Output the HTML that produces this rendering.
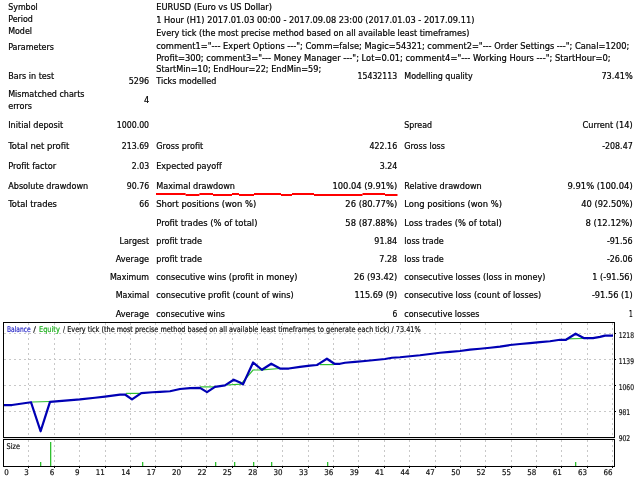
<!DOCTYPE html>
<html><head><meta charset="utf-8"><title>Strategy Tester Report</title>
<style>
html,body{margin:0;padding:0;background:#fff;width:640px;height:480px;overflow:hidden}
svg{display:block}
.t{font-family:'DejaVu Sans Condensed','DejaVu Sans','Liberation Sans',sans-serif;font-size:9.1px;fill:#000;stroke:#000;stroke-width:0.2px}
.c{font-family:'DejaVu Sans Condensed','DejaVu Sans','Liberation Sans',sans-serif;font-size:7.9px;fill:#141414;stroke:#141414;stroke-width:0.2px}
</style></head><body>
<svg width="640" height="480" viewBox="0 0 640 480">
<rect width="640" height="480" fill="#fff"/>
<text class="t" x="8.20" y="10" textLength="29.50" lengthAdjust="spacingAndGlyphs">Symbol</text>
<text class="t" x="156.25" y="10" textLength="115.75" lengthAdjust="spacingAndGlyphs">EURUSD (Euro vs US Dollar)</text>
<text class="t" x="8.20" y="22" textLength="24.70" lengthAdjust="spacingAndGlyphs">Period</text>
<text class="t" x="156.25" y="23" textLength="318.15" lengthAdjust="spacingAndGlyphs">1 Hour (H1) 2017.01.03 00:00 - 2017.09.08 23:00 (2017.01.03 - 2017.09.11)</text>
<text class="t" x="8.20" y="34" textLength="23.80" lengthAdjust="spacingAndGlyphs">Model</text>
<text class="t" x="156.25" y="36" textLength="313.15" lengthAdjust="spacingAndGlyphs">Every tick (the most precise method based on all available least timeframes)</text>
<text class="t" x="8.20" y="50" textLength="45.80" lengthAdjust="spacingAndGlyphs">Parameters</text>
<text class="t" x="156.25" y="49" textLength="472.95" lengthAdjust="spacingAndGlyphs">comment1=&quot;--- Expert Options ---&quot;; Comm=false; Magic=54321; comment2=&quot;--- Order Settings ---&quot;; Canal=1200;</text>
<text class="t" x="156.25" y="61" textLength="454.25" lengthAdjust="spacingAndGlyphs">Profit=300; comment3=&quot;--- Money Manager ---&quot;; Lot=0.01; comment4=&quot;--- Working Hours ---&quot;; StartHour=0;</text>
<text class="t" x="156.25" y="72" textLength="165.00" lengthAdjust="spacingAndGlyphs">StartMin=10; EndHour=22; EndMin=59;</text>
<text class="t" x="8.20" y="79" textLength="46.00" lengthAdjust="spacingAndGlyphs">Bars in test</text>
<text class="t" x="128.70" y="84" textLength="20.40" lengthAdjust="spacingAndGlyphs">5296</text>
<text class="t" x="156.27" y="84" textLength="59.99" lengthAdjust="spacingAndGlyphs">Ticks modelled</text>
<text class="t" x="357.50" y="79" textLength="39.70" lengthAdjust="spacingAndGlyphs">15432113</text>
<text class="t" x="404.25" y="79" textLength="68.45" lengthAdjust="spacingAndGlyphs">Modelling quality</text>
<text class="t" x="601.40" y="79" textLength="31.30" lengthAdjust="spacingAndGlyphs">73.41%</text>
<text class="t" x="8.20" y="97" textLength="76.30" lengthAdjust="spacingAndGlyphs">Mismatched charts</text>
<text class="t" x="8.20" y="109" textLength="23.80" lengthAdjust="spacingAndGlyphs">errors</text>
<text class="t" x="143.89" y="103">4</text>
<text class="t" x="8.20" y="128" textLength="55.05" lengthAdjust="spacingAndGlyphs">Initial deposit</text>
<text class="t" x="116.75" y="128" textLength="32.35" lengthAdjust="spacingAndGlyphs">1000.00</text>
<text class="t" x="404.25" y="128" textLength="27.75" lengthAdjust="spacingAndGlyphs">Spread</text>
<text class="t" x="582.50" y="128" textLength="50.20" lengthAdjust="spacingAndGlyphs">Current (14)</text>
<text class="t" x="8.22" y="149" textLength="61.03" lengthAdjust="spacingAndGlyphs">Total net profit</text>
<text class="t" x="121.75" y="149" textLength="27.35" lengthAdjust="spacingAndGlyphs">213.69</text>
<text class="t" x="156.25" y="149" textLength="47.00" lengthAdjust="spacingAndGlyphs">Gross profit</text>
<text class="t" x="369.50" y="149" textLength="27.70" lengthAdjust="spacingAndGlyphs">422.16</text>
<text class="t" x="404.25" y="149" textLength="40.75" lengthAdjust="spacingAndGlyphs">Gross loss</text>
<text class="t" x="602.20" y="149" textLength="30.50" lengthAdjust="spacingAndGlyphs">-208.47</text>
<text class="t" x="8.20" y="169" textLength="48.04" lengthAdjust="spacingAndGlyphs">Profit factor</text>
<text class="t" x="131.75" y="169" textLength="17.35" lengthAdjust="spacingAndGlyphs">2.03</text>
<text class="t" x="156.25" y="169" textLength="65.58" lengthAdjust="spacingAndGlyphs">Expected payoff</text>
<text class="t" x="379.70" y="169" textLength="17.50" lengthAdjust="spacingAndGlyphs">3.24</text>
<text class="t" x="8.20" y="189" textLength="80.05" lengthAdjust="spacingAndGlyphs">Absolute drawdown</text>
<text class="t" x="126.75" y="189" textLength="22.35" lengthAdjust="spacingAndGlyphs">90.76</text>
<text class="t" x="156.25" y="189" textLength="78.75" lengthAdjust="spacingAndGlyphs">Maximal drawdown</text>
<text class="t" x="332.50" y="189" textLength="64.70" lengthAdjust="spacingAndGlyphs">100.04 (9.91%)</text>
<text class="t" x="404.25" y="189" textLength="77.50" lengthAdjust="spacingAndGlyphs">Relative drawdown</text>
<text class="t" x="567.50" y="189" textLength="65.20" lengthAdjust="spacingAndGlyphs">9.91% (100.04)</text>
<text class="t" x="8.22" y="207" textLength="48.78" lengthAdjust="spacingAndGlyphs">Total trades</text>
<text class="t" x="139.25" y="207" textLength="9.85" lengthAdjust="spacingAndGlyphs">66</text>
<text class="t" x="156.25" y="207" textLength="100.00" lengthAdjust="spacingAndGlyphs">Short positions (won %)</text>
<text class="t" x="345.30" y="207" textLength="51.90" lengthAdjust="spacingAndGlyphs">26 (80.77%)</text>
<text class="t" x="404.25" y="207" textLength="97.75" lengthAdjust="spacingAndGlyphs">Long positions (won %)</text>
<text class="t" x="581.25" y="207" textLength="51.45" lengthAdjust="spacingAndGlyphs">40 (92.50%)</text>
<text class="t" x="156.25" y="226" textLength="101.25" lengthAdjust="spacingAndGlyphs">Profit trades (% of total)</text>
<text class="t" x="345.30" y="226" textLength="51.90" lengthAdjust="spacingAndGlyphs">58 (87.88%)</text>
<text class="t" x="404.25" y="226" textLength="97.50" lengthAdjust="spacingAndGlyphs">Loss trades (% of total)</text>
<text class="t" x="585.50" y="226" textLength="47.20" lengthAdjust="spacingAndGlyphs">8 (12.12%)</text>
<text class="t" x="119.50" y="244" textLength="29.60" lengthAdjust="spacingAndGlyphs">Largest</text>
<text class="t" x="156.25" y="244" textLength="45.75" lengthAdjust="spacingAndGlyphs">profit trade</text>
<text class="t" x="374.30" y="244" textLength="22.90" lengthAdjust="spacingAndGlyphs">91.84</text>
<text class="t" x="404.25" y="244" textLength="39.50" lengthAdjust="spacingAndGlyphs">loss trade</text>
<text class="t" x="606.90" y="244" textLength="25.80" lengthAdjust="spacingAndGlyphs">-91.56</text>
<text class="t" x="115.75" y="262" textLength="33.35" lengthAdjust="spacingAndGlyphs">Average</text>
<text class="t" x="156.25" y="262" textLength="45.75" lengthAdjust="spacingAndGlyphs">profit trade</text>
<text class="t" x="379.30" y="262" textLength="17.90" lengthAdjust="spacingAndGlyphs">7.28</text>
<text class="t" x="404.25" y="262" textLength="39.50" lengthAdjust="spacingAndGlyphs">loss trade</text>
<text class="t" x="606.90" y="262" textLength="25.80" lengthAdjust="spacingAndGlyphs">-26.06</text>
<text class="t" x="110.00" y="280" textLength="39.10" lengthAdjust="spacingAndGlyphs">Maximum</text>
<text class="t" x="156.25" y="280" textLength="141.25" lengthAdjust="spacingAndGlyphs">consecutive wins (profit in money)</text>
<text class="t" x="354.00" y="280" textLength="43.20" lengthAdjust="spacingAndGlyphs">26 (93.42)</text>
<text class="t" x="404.25" y="280" textLength="141.25" lengthAdjust="spacingAndGlyphs">consecutive losses (loss in money)</text>
<text class="t" x="592.30" y="280" textLength="40.40" lengthAdjust="spacingAndGlyphs">1 (-91.56)</text>
<text class="t" x="115.75" y="298" textLength="33.35" lengthAdjust="spacingAndGlyphs">Maximal</text>
<text class="t" x="156.25" y="298" textLength="137.50" lengthAdjust="spacingAndGlyphs">consecutive profit (count of wins)</text>
<text class="t" x="354.50" y="298" textLength="42.70" lengthAdjust="spacingAndGlyphs">115.69 (9)</text>
<text class="t" x="404.25" y="298" textLength="137.00" lengthAdjust="spacingAndGlyphs">consecutive loss (count of losses)</text>
<text class="t" x="591.90" y="298" textLength="40.80" lengthAdjust="spacingAndGlyphs">-91.56 (1)</text>
<text class="t" x="115.75" y="317" textLength="33.35" lengthAdjust="spacingAndGlyphs">Average</text>
<text class="t" x="156.25" y="317" textLength="68.75" lengthAdjust="spacingAndGlyphs">consecutive wins</text>
<text class="t" x="392.40" y="317" textLength="4.80" lengthAdjust="spacingAndGlyphs">6</text>
<text class="t" x="404.25" y="317" textLength="75.25" lengthAdjust="spacingAndGlyphs">consecutive losses</text>
<text class="t" x="629.00" y="317" textLength="3.70" lengthAdjust="spacingAndGlyphs">1</text>
<rect x="156.0" y="193" width="29.6" height="2" fill="#f00"/>
<rect x="185.6" y="194" width="13.8" height="2" fill="#f00"/>
<rect x="199.4" y="193" width="13.6" height="2" fill="#f00"/>
<rect x="213.0" y="194" width="19.0" height="2" fill="#f00"/>
<rect x="232.0" y="193" width="7.0" height="2" fill="#f00"/>
<rect x="239.0" y="194" width="15.0" height="2" fill="#f00"/>
<rect x="254.0" y="193" width="27.0" height="2" fill="#f00"/>
<rect x="281.0" y="194" width="11.0" height="2" fill="#f00"/>
<rect x="292.0" y="193" width="22.0" height="2" fill="#f00"/>
<rect x="314.0" y="194" width="48.5" height="2" fill="#f00"/>
<rect x="362.5" y="193" width="22.5" height="2" fill="#f00"/>
<rect x="385.0" y="194" width="12.5" height="2" fill="#f00"/>
<path d="M28.5 323V437 M28.5 440V466 M54.5 323V437 M54.5 440V466 M79.5 323V437 M79.5 440V466 M105.5 323V437 M105.5 440V466 M130.5 323V437 M130.5 440V466 M155.5 323V437 M155.5 440V466 M181.5 323V437 M181.5 440V466 M206.5 323V437 M206.5 440V466 M232.5 323V437 M232.5 440V466 M257.5 323V437 M257.5 440V466 M282.5 323V437 M282.5 440V466 M308.5 323V437 M308.5 440V466 M333.5 323V437 M333.5 440V466 M358.5 323V437 M358.5 440V466 M384.5 323V437 M384.5 440V466 M409.5 323V437 M409.5 440V466 M435.5 323V437 M435.5 440V466 M460.5 323V437 M460.5 440V466 M485.5 323V437 M485.5 440V466 M511.5 323V437 M511.5 440V466 M536.5 323V437 M536.5 440V466 M561.5 323V437 M561.5 440V466 M587.5 323V437 M587.5 440V466 M612.5 323V437 M612.5 440V466 M4 333.5H614 M4 359.5H614 M4 385.5H614 M4 411.5H614" stroke="#c8c8c8" stroke-width="1" stroke-dasharray="2 3" fill="none"/>
<rect x="3.5" y="322.5" width="611" height="115" fill="none" stroke="#000" stroke-width="1"/>
<rect x="3" y="438" width="612" height="1" fill="#e2e2e2"/>
<rect x="3.5" y="439.5" width="611" height="27" fill="none" stroke="#000" stroke-width="1"/>
<path d="M615 333.5H616 M615 359.5H616 M615 385.5H616 M615 411.5H616 M28.5 467V468 M54.5 467V468 M79.5 467V468 M105.5 467V468 M130.5 467V468 M155.5 467V468 M181.5 467V468 M206.5 467V468 M232.5 467V468 M257.5 467V468 M282.5 467V468 M308.5 467V468 M333.5 467V468 M358.5 467V468 M384.5 467V468 M409.5 467V468 M435.5 467V468 M460.5 467V468 M485.5 467V468 M511.5 467V468 M536.5 467V468 M561.5 467V468 M587.5 467V468 M612.5 467V468" stroke="#000" stroke-width="1" fill="none"/>
<polyline points="32,402 50,401.5" fill="none" stroke="#2fbf2f" stroke-width="1.2"/>
<polyline points="126,393.4 141,393.4" fill="none" stroke="#2fbf2f" stroke-width="1.2"/>
<polyline points="200,386.9 215,386.9" fill="none" stroke="#2fbf2f" stroke-width="1.2"/>
<polyline points="227,385 241,384.2 253,370 262,369.8 280,368.5" fill="none" stroke="#2fbf2f" stroke-width="1.2"/>
<polyline points="320,364.6 334,364.6" fill="none" stroke="#2fbf2f" stroke-width="1.2"/>
<polyline points="566,338.8 583,338.5" fill="none" stroke="#2fbf2f" stroke-width="1.2"/>
<polyline points="4,405 12,405 31,402.25 40.6,431.25 50,401.9 80,399.4 95,397.75 105,396.6 120,394.6 125,394.5 132,399.4 141.25,393.1 152.5,392.25 160,391.9 170,391.25 180,389 190,388.1 200,387.9 207,392.1 215,386.9 225,385.4 233.75,379.75 240,382.5 243,384.4 253.1,362.5 261.9,369.75 271.25,363.75 280,368.5 288.75,368.5 300,366.9 310,365.6 317,365 320,363.1 326.9,358.75 334.4,363.75 340,363.75 345,362.75 355,361.9 365,361 375,360 385,359 392,357.75 400,357.25 410,356.25 420,355.25 430,354 440,352.75 450,351.9 460,351 470,349.6 480,348.75 490,347.75 500,346.6 510,345 520,344 530,343.1 540,342.1 550,341.25 560,339.75 566,339.75 575.6,333.75 583.75,338.1 593,338.1 600,336.9 605,335.6 613,335.6" fill="none" stroke="#0000b4" stroke-width="2.25" stroke-linejoin="round"/>
<rect x="40" y="462" width="1.3" height="4" fill="#2fbf2f"/>
<rect x="50" y="442" width="1.3" height="24" fill="#2fbf2f"/>
<rect x="142" y="462" width="1.3" height="4" fill="#2fbf2f"/>
<rect x="215" y="462" width="1.3" height="4" fill="#2fbf2f"/>
<rect x="234" y="462" width="1.3" height="4" fill="#2fbf2f"/>
<rect x="253" y="462" width="1.3" height="4" fill="#2fbf2f"/>
<rect x="271" y="462" width="1.3" height="4" fill="#2fbf2f"/>
<rect x="327" y="462" width="1.3" height="4" fill="#2fbf2f"/>
<rect x="575" y="462" width="1.3" height="4" fill="#2fbf2f"/>
<text class="c" x="7.00" y="332" textLength="23.60" lengthAdjust="spacingAndGlyphs" style="fill:#2a2ac8;stroke:#2a2ac8">Balance</text>
<text class="c" x="33.20" y="332" textLength="2.69" lengthAdjust="spacingAndGlyphs">/</text>
<text class="c" x="39.00" y="332" textLength="20.80" lengthAdjust="spacingAndGlyphs" style="fill:#20b020;stroke:#20b020">Equity</text>
<text class="c" x="63.00" y="332" textLength="1.99" lengthAdjust="spacingAndGlyphs">/</text>
<text class="c" x="67.20" y="332" textLength="353.40" lengthAdjust="spacingAndGlyphs">Every tick (the most precise method based on all available least timeframes to generate each tick) / 73.41%</text>
<text class="c" x="6.60" y="449" textLength="13.40" lengthAdjust="spacingAndGlyphs">Size</text>
<text class="c" x="618.70" y="337.6" textLength="15.30" lengthAdjust="spacingAndGlyphs">1218</text>
<text class="c" x="618.70" y="363.6" textLength="15.30" lengthAdjust="spacingAndGlyphs">1139</text>
<text class="c" x="618.70" y="389.6" textLength="15.30" lengthAdjust="spacingAndGlyphs">1060</text>
<text class="c" x="618.70" y="415" textLength="11.50" lengthAdjust="spacingAndGlyphs">981</text>
<text class="c" x="618.70" y="440.8" textLength="11.50" lengthAdjust="spacingAndGlyphs">902</text>
<text class="c" x="4.20" y="475.2">0</text>
<text class="c" x="24.26" y="475.2">3</text>
<text class="c" x="49.64" y="475.2">6</text>
<text class="c" x="75.02" y="475.2">9</text>
<text class="c" x="95.87" y="475.2">11</text>
<text class="c" x="121.25" y="475.2">14</text>
<text class="c" x="146.63" y="475.2">17</text>
<text class="c" x="172.01" y="475.2">20</text>
<text class="c" x="197.39" y="475.2">22</text>
<text class="c" x="222.77" y="475.2">25</text>
<text class="c" x="248.15" y="475.2">28</text>
<text class="c" x="273.53" y="475.2">30</text>
<text class="c" x="298.91" y="475.2">33</text>
<text class="c" x="324.29" y="475.2">36</text>
<text class="c" x="349.67" y="475.2">39</text>
<text class="c" x="375.05" y="475.2">41</text>
<text class="c" x="400.43" y="475.2">44</text>
<text class="c" x="425.81" y="475.2">47</text>
<text class="c" x="451.19" y="475.2">50</text>
<text class="c" x="476.57" y="475.2">52</text>
<text class="c" x="501.95" y="475.2">55</text>
<text class="c" x="527.33" y="475.2">58</text>
<text class="c" x="552.71" y="475.2">61</text>
<text class="c" x="578.09" y="475.2">63</text>
<text class="c" x="603.47" y="475.2">66</text>
</svg>
</body></html>
